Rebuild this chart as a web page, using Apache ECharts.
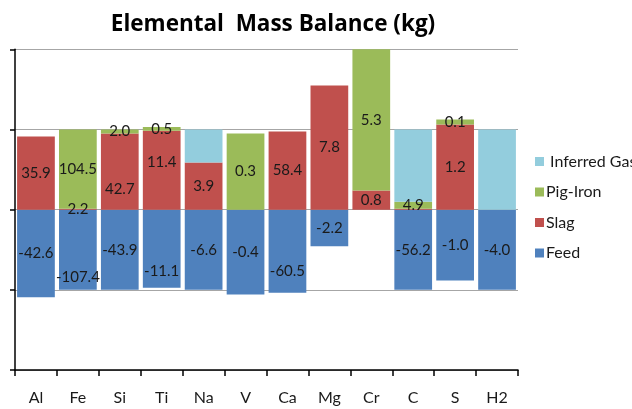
<!DOCTYPE html>
<html>
<head>
<meta charset="utf-8">
<script src="https://cdn.jsdelivr.net/npm/echarts@6/dist/echarts.min.js"></script>
<style>html,body{margin:0;padding:0;background:#fff}#c{width:632px;height:409px}</style>
</head>
<body>
<div id="c"></div>
<script>
// Categories
var categories = ['Al','Fe','Si','Ti','Na','V','Ca','Mg','Cr','C','S','H2'];
// Bar heights (normalised %)
var feedValues    = [-109.2, -100, -100, -97.5, -100, -105.9, -103.75, -45.5, 0, -100, -88.5, -100];
var slagValues    = [91.25, 1.25, 95, 98.4, 58.75, 0, 97.5, 155, 24, 1.25, 106.25, 0];
var pigIronValues = [0, 98.75, 5, 4.6, 0, 95, 0, 0, 176, 8.75, 6.25, 0];
var gasValues     = [0, 0, 0, 0, 41.25, 0, 0, 0, 0, 90, 0, 100];
// Data labels (kg)
var feedLabels    = ['-42.6','-107.4','-43.9','-11.1','-6.6','-0.4','-60.5','-2.2',null,'-56.2','-1.0','-4.0'];
var slagLabels    = ['35.9','2.2','42.7','11.4','3.9',null,'58.4','7.8','0.8',null,'1.2',null];
var pigIronLabels = [null,'104.5','2.0','0.5',null,'0.3',null,null,'5.3','4.9','0.1',null];
var gasLabels     = [null,null,null,null,null,null,null,null,null,null,null,null];
var seriesNames = ['Feed','Slag','Pig-Iron',' Inferred Gas'];
var legendOrder = [' Inferred Gas','Pig-Iron','Slag','Feed'];

var FONT = 'Lato, "Open Sans", sans-serif';
var colors = ['#4F81BD','#C0504D','#9BBB59','#93CDDD'];
// label nudges (Excel collision avoidance)
var labelShift = {
  'Slag': {2: 18, 3: -8},
  'Feed': {1: 27, 3: 22, 6: 20}
};

function mkSeries(name, vals, labels, color) {
  return {
    name: name, type: 'bar', stack: 'total', barCategoryGap: '10%',
    itemStyle: {color: color},
    emphasis: {disabled: true},
    data: vals.map(function (v, i) {
      var d = {value: v === 0 ? null : v};
      var sh = (labelShift[name] || {})[i];
      if (sh) d.label = {offset: [0, sh]};
      return d;
    }),
    label: {
      show: true, position: 'inside', fontFamily: FONT, fontSize: 15, color: '#1a1a1a',
      formatter: function (p) { var t = labels[p.dataIndex]; return t == null ? '' : t; }
    }
  };
}

var chart = echarts.init(document.getElementById('c'), null, {renderer: 'canvas'});
chart.setOption({
  animation: false,
  title: {
    text: 'Elemental  Mass Balance (kg)', left: 268, top: 8, textAlign: 'center',
    textStyle: {fontFamily: '"Open Sans", Lato, sans-serif', fontWeight: 'bold', fontSize: 22.5, color: '#000'}
  },
  legend: {
    data: legendOrder, orient: 'vertical', left: 530, top: 148.5, itemGap: 14.5,
    itemWidth: 9, itemHeight: 9, icon: 'rect',
    textStyle: {fontFamily: FONT, fontSize: 16, color: '#1a1a1a', padding: [0,0,0,-3]}
  },
  grid: {left: 15, right: 114, top: 49.3, bottom: 39, containLabel: false},
  xAxis: {
    type: 'category', data: categories, position: 'bottom',
    axisLine: {onZero: false, lineStyle: {color: '#000', width: 1.5}},
    axisTick: {show: true, length: 6, lineStyle: {color: '#000', width: 1.5}},
    axisLabel: {fontFamily: FONT, fontSize: 16, color: '#1a1a1a', margin: 20}
  },
  yAxis: {
    type: 'value', min: -200, max: 200, interval: 100,
    axisLine: {show: true, lineStyle: {color: '#000', width: 1.5}},
    axisTick: {show: true, length: 5, lineStyle: {color: '#000', width: 1.5}},
    axisLabel: {show: false},
    splitLine: {show: true, lineStyle: {color: '#a6a6a6', width: 1}}
  },
  series: [
    mkSeries(seriesNames[0], feedValues, feedLabels, colors[0]),
    mkSeries(seriesNames[1], slagValues, slagLabels, colors[1]),
    mkSeries(seriesNames[2], pigIronValues, pigIronLabels, colors[2]),
    mkSeries(seriesNames[3], gasValues, gasLabels, colors[3])
  ]
});
</script>
</body>
</html>
